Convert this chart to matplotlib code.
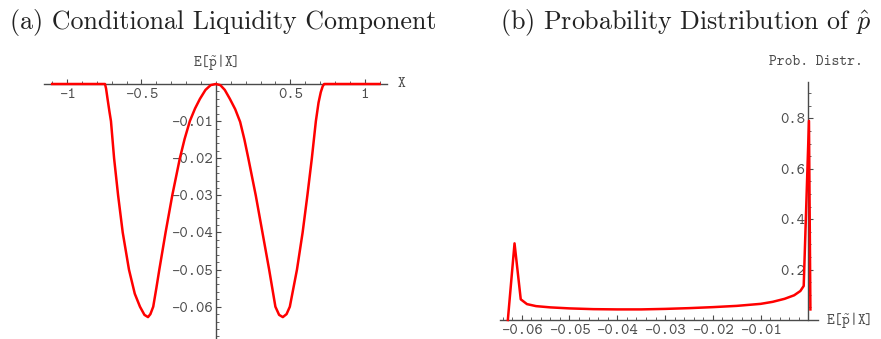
import matplotlib
matplotlib.use("Agg")
import matplotlib.pyplot as plt
from matplotlib.ticker import FixedLocator, MultipleLocator
import numpy as np

plt.rcParams['axes.unicode_minus'] = False
plt.rcParams['mathtext.fontset'] = 'cm'

# ---- data: (a) conditional liquidity component ----
x_a = [-1.10, -0.745, -0.738, -0.728, -0.715, -0.705, -0.684, -0.657, -0.626, -0.584,
       -0.545, -0.51, -0.48, -0.456, -0.44, -0.421, -0.40, -0.38, -0.338,
       -0.293, -0.242, -0.21, -0.175, -0.14, -0.107, -0.07, -0.035, 0.0,
       0.03, 0.06, 0.094, 0.13, 0.163, 0.192, 0.218, 0.268, 0.313, 0.358,
       0.40, 0.425, 0.45, 0.475, 0.497, 0.545, 0.583, 0.615, 0.645, 0.672,
       0.69, 0.705, 0.718, 0.728, 1.10]
y_a = [0.0, 0.0, -0.0012, -0.0040, -0.0075, -0.010, -0.020, -0.030, -0.040, -0.050,
       -0.0565, -0.060, -0.0622, -0.0628, -0.0620, -0.060, -0.055, -0.050, -0.040,
       -0.030, -0.020, -0.0148, -0.0100, -0.0066, -0.0040, -0.0016, -0.0003, 0.0,
       -0.0003, -0.0016, -0.0040, -0.0068, -0.0102, -0.0150, -0.020, -0.030, -0.040, -0.050,
       -0.060, -0.0622, -0.0628, -0.0620, -0.060, -0.050, -0.040, -0.030, -0.020, -0.010,
       -0.0050, -0.0022, -0.0006, 0.0, 0.0]

# ---- data: (b) probability distribution ----
x_b = [-0.0629, -0.0615, -0.0602, -0.0589, -0.057, -0.054, -0.050, -0.045,
       -0.040, -0.035, -0.030, -0.025, -0.020, -0.015, -0.010, -0.0075,
       -0.005, -0.003, -0.0017, -0.0010, 0.0001, 0.0004]
y_b = [0.0, 0.304, 0.082, 0.063, 0.055, 0.050, 0.046, 0.043,
       0.042, 0.042, 0.044, 0.047, 0.051, 0.056, 0.064, 0.072,
       0.084, 0.098, 0.115, 0.135, 0.79, 0.042]

a_xticks = [-1, -0.5, 0.5, 1]
a_xticklabels = ["-1", "-0.5", "0.5", "1"]
a_yticks = [-0.01, -0.02, -0.03, -0.04, -0.05, -0.06]
a_yticklabels = ["-0.01", "-0.02", "-0.03", "-0.04", "-0.05", "-0.06"]
b_xticks = [-0.06, -0.05, -0.04, -0.03, -0.02, -0.01]
b_xticklabels = ["-0.06", "-0.05", "-0.04", "-0.03", "-0.02", "-0.01"]
b_yticks = [0.2, 0.4, 0.6, 0.8]
b_yticklabels = ["0.2", "0.4", "0.6", "0.8"]

W, H = 881, 339
fig = plt.figure(figsize=(W / 100, H / 100), dpi=100)

AX_COL = '#4a4a4a'
LBL_COL = '#4d4d4d'
TT = 'cmtt10'
RED = '#ff0000'
TICK_FS = 11.5
LAB_FS = 10.7


def style(ax):
    for s in ['top', 'right']:
        ax.spines[s].set_visible(False)
    ax.spines['left'].set_position(('data', 0))
    ax.spines['bottom'].set_position(('data', 0))
    for s in ['left', 'bottom']:
        ax.spines[s].set_color(AX_COL)
        ax.spines[s].set_linewidth(1.0)
    ax.tick_params(which='major', direction='in', length=3.5, width=0.8, color=AX_COL,
                   labelsize=TICK_FS, labelcolor=LBL_COL)
    ax.tick_params(which='minor', direction='in', length=2, width=0.6, color=AX_COL)
    ax.tick_params(axis='x', pad=3)
    ax.tick_params(axis='y', pad=2)
    ax.patch.set_visible(False)


# ---------- panel (a) ----------
axa = fig.add_axes([44 / W, 0, (387 - 44) / W, (339 - 84) / H])
axa.plot(x_a, y_a, color=RED, lw=1.8, clip_on=False, zorder=3)
axa.set_xlim(-1.155, 1.15)
axa.set_ylim(-0.0687, 0.0)
style(axa)
axa.xaxis.set_major_locator(FixedLocator(a_xticks))
axa.set_xticklabels(a_xticklabels, fontfamily=TT, fontsize=TICK_FS)
axa.xaxis.set_minor_locator(MultipleLocator(0.1))
axa.yaxis.set_major_locator(FixedLocator(a_yticks))
axa.set_yticklabels(a_yticklabels, fontfamily=TT, fontsize=TICK_FS)
axa.yaxis.set_minor_locator(MultipleLocator(0.002))
axa.annotate(r"E[$\tilde{\mathtt{p}}$|X]", xy=(0, 0), xycoords='data',
             xytext=(0, 22), textcoords='offset pixels', ha='center', va='center',
             fontfamily=TT, fontsize=LAB_FS, color=LBL_COL)
axa.annotate("X", xy=(1.15, 0), xycoords='data', xytext=(14, 0),
             textcoords='offset pixels', ha='center', va='center',
             fontfamily=TT, fontsize=LAB_FS, color=LBL_COL)

# ---------- panel (b) ----------
axb = fig.add_axes([500 / W, 0, (818 - 500) / W, (339 - 82) / H])
axb.plot(x_b, y_b, color=RED, lw=1.8, clip_on=False, zorder=3)
axb.set_xlim(-0.06454, 0.00199)
axb.set_ylim(-0.0754, 0.944)
style(axb)
axb.xaxis.set_major_locator(FixedLocator(b_xticks))
axb.set_xticklabels(b_xticklabels, fontfamily=TT, fontsize=TICK_FS)
axb.xaxis.set_minor_locator(FixedLocator(np.arange(-0.064, 0.0001, 0.002)))
axb.yaxis.set_major_locator(FixedLocator(b_yticks))
axb.set_yticklabels(b_yticklabels, fontfamily=TT, fontsize=TICK_FS)
axb.yaxis.set_minor_locator(FixedLocator(np.arange(0.05, 0.94, 0.05)))
axb.spines['left'].set_bounds(0, 0.944)
axb.annotate("Prob. Distr.", xy=(0, 0.944), xycoords='data', xytext=(7, 20),
             textcoords='offset pixels', ha='center', va='center',
             fontfamily=TT, fontsize=LAB_FS, color=LBL_COL)
axb.annotate(r"E[$\tilde{\mathtt{p}}$|X]", xy=(0.00199, 0), xycoords='data',
             xytext=(8, 0), textcoords='offset pixels', ha='left', va='center',
             fontfamily=TT, fontsize=LAB_FS, color=LBL_COL)

# ---------- titles ----------
fig.text(10 / W, 1 - 22 / H, "(a) Conditional Liquidity Component",
         fontfamily='cmr10', fontsize=18.7, color='#222222', ha='left', va='center')
fig.text(500 / W, 1 - 22 / H, r"(b) Probability Distribution of $\hat{p}$",
         fontfamily='cmr10', fontsize=18.7, color='#222222', ha='left', va='center')

fig.savefig("out.png", dpi=100)
